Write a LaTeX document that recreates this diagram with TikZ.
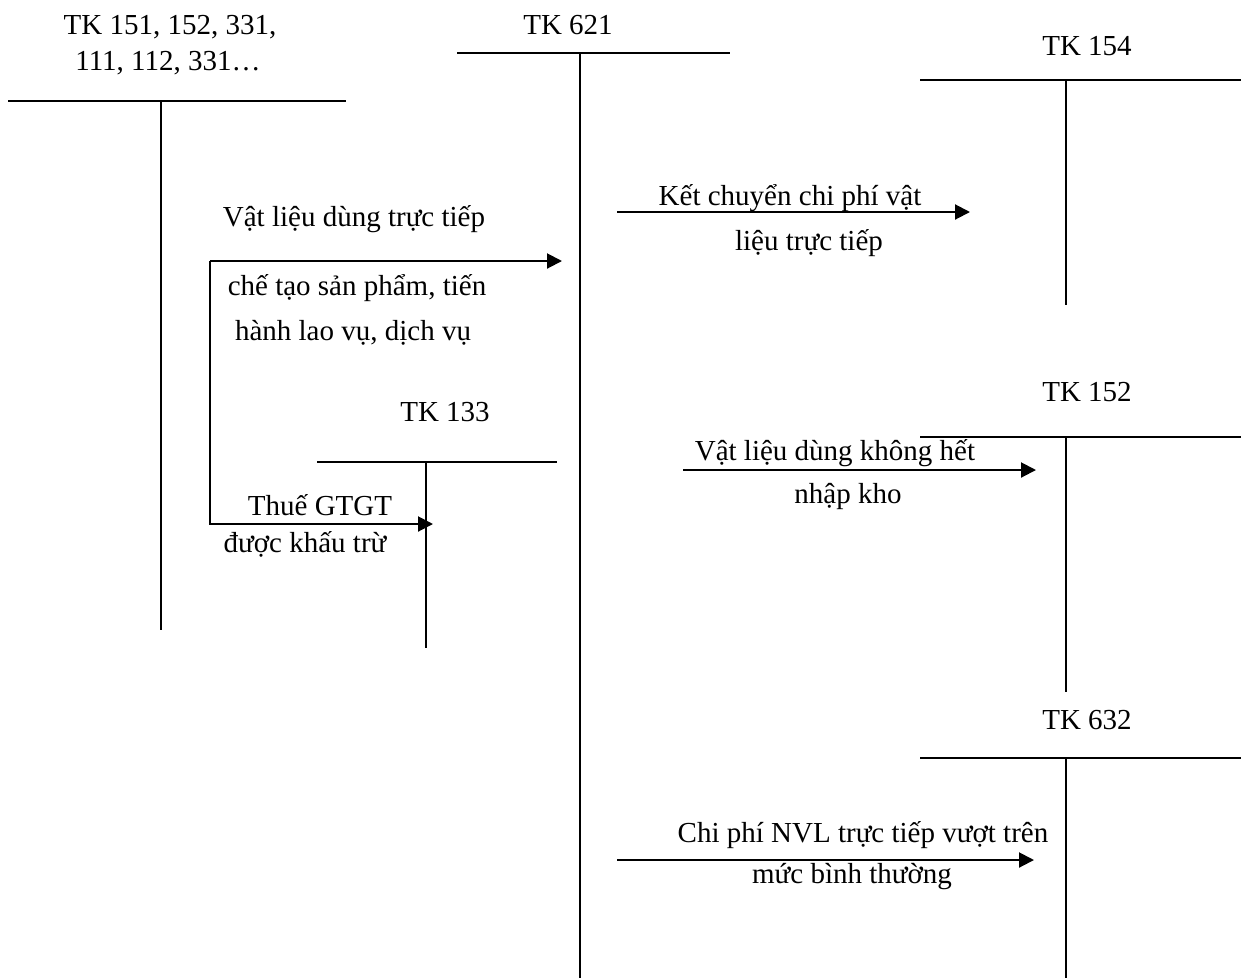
\documentclass[tikz,border=0pt]{standalone}
\usepackage{fontspec}
\setmainfont{Liberation Serif}
\usetikzlibrary{arrows.meta}
\begin{document}
\begin{tikzpicture}[x=1pt,y=-1pt,
  tline/.style={line width=2pt},
  conn/.style={line width=2pt,-{Triangle[length=15pt,width=15pt]}},
  lbl/.style={anchor=base,inner sep=0pt,font=\fontsize{29}{34}\selectfont}]
\useasboundingbox (0,0) rectangle (1241,978);
% T-account TK 151...
\coordinate (a1l) at (8,101); \coordinate (a1r) at (346,101);
\coordinate (a1t) at (161,101); \coordinate (a1b) at (161,630);
\draw[tline] (a1l) -- (a1r); \draw[tline] (a1t) -- (a1b);
\node[lbl] (t1a) at (170,34) {TK 151, 152, 331,};
\node[lbl] (t1b) at (168,70) {111, 112, 331…};
% TK 621
\coordinate (a2l) at (457,53); \coordinate (a2r) at (730,53);
\coordinate (a2t) at (580,53); \coordinate (a2b) at (580,978);
\draw[tline] (a2l) -- (a2r); \draw[tline] (a2t) -- (a2b);
\node[lbl] (t2) at (568,34) {TK 621};
% TK 154
\coordinate (a3l) at (920,80); \coordinate (a3r) at (1241,80);
\coordinate (a3t) at (1066,80); \coordinate (a3b) at (1066,305);
\draw[tline] (a3l) -- (a3r); \draw[tline] (a3t) -- (a3b);
\node[lbl] (t3) at (1087,55) {TK 154};
% TK 133
\coordinate (a4l) at (317,462); \coordinate (a4r) at (557,462);
\coordinate (a4t) at (426,462); \coordinate (a4b) at (426,648);
\draw[tline] (a4l) -- (a4r); \draw[tline] (a4t) -- (a4b);
\node[lbl] (t4) at (445,421) {TK 133};
% TK 152
\coordinate (a5l) at (920,437); \coordinate (a5r) at (1241,437);
\coordinate (a5t) at (1066,437); \coordinate (a5b) at (1066,692);
\draw[tline] (a5l) -- (a5r); \draw[tline] (a5t) -- (a5b);
\node[lbl] (t5) at (1087,401) {TK 152};
% TK 632
\coordinate (a6l) at (920,758); \coordinate (a6r) at (1241,758);
\coordinate (a6t) at (1066,758); \coordinate (a6b) at (1066,978);
\draw[tline] (a6l) -- (a6r); \draw[tline] (a6t) -- (a6b);
\node[lbl] (t6) at (1087,729) {TK 632};
% connectors
\coordinate (c1s) at (210,261); \coordinate (c1e) at (562,261);
\coordinate (c2s) at (210,524); \coordinate (c2e) at (433,524);
\draw[conn] (c1s) -- (c1e);
\draw[conn] (c1s) -- (c2s) -- (c2e);
\coordinate (c3s) at (617,212); \coordinate (c3e) at (970,212);
\draw[conn] (c3s) -- (c3e);
\coordinate (c4s) at (683,470); \coordinate (c4e) at (1036,470);
\draw[conn] (c4s) -- (c4e);
\coordinate (c5s) at (617,860); \coordinate (c5e) at (1034,860);
\draw[conn] (c5s) -- (c5e);
% labels
\node[lbl] (l1) at (354,226) {Vật liệu dùng trực tiếp};
\node[lbl] (l2) at (357,295) {chế tạo sản phẩm, tiến};
\node[lbl] (l3) at (353,340) {hành lao vụ, dịch vụ};
\node[lbl] (l4) at (320,515) {Thuế GTGT};
\node[lbl] (l5) at (305,552) {được khấu trừ};
\node[lbl] (l6) at (790,205) {Kết chuyển chi phí vật};
\node[lbl] (l7) at (809,250) {liệu trực tiếp};
\node[lbl] (l8) at (835,460) {Vật liệu dùng không hết};
\node[lbl] (l9) at (848,503) {nhập kho};
\node[lbl] (l10) at (863,842) {Chi phí NVL trực tiếp vượt trên};
\node[lbl] (l11) at (852,883) {mức bình thường};
\end{tikzpicture}
\end{document}
